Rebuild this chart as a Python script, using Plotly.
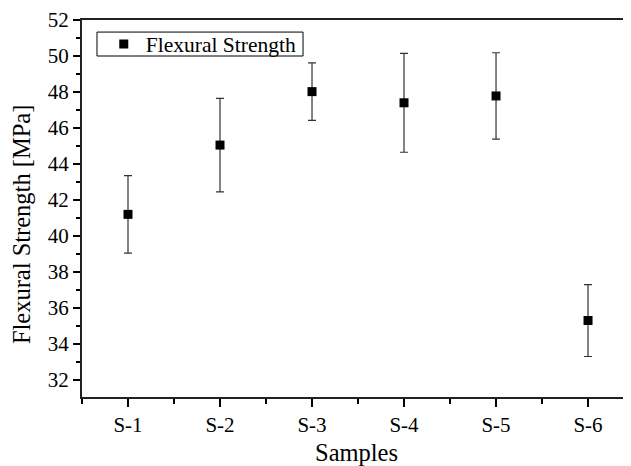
import plotly.graph_objects as go

samples = ["S-1", "S-2", "S-3", "S-4", "S-5", "S-6"]
positions = [1, 2, 3, 4, 5, 6]
strength = [41.2, 45.05, 48.02, 47.4, 47.78, 35.3]
error = [2.15, 2.6, 1.6, 2.75, 2.4, 2.0]

font_family = "Liberation Serif, Times New Roman, serif"

fig = go.Figure(
    data=go.Scatter(
        x=positions,
        y=strength,
        mode="markers",
        name="Flexural Strength",
        marker=dict(symbol="square", size=9, color="black"),
        error_y=dict(type="data", array=error, color="#333333", thickness=1.2, width=4),
    )
)

# page has an 8px body margin, so the figure is sized to fit inside the window
fig.update_layout(
    width=623,
    height=458,
    margin=dict(l=74, r=0, t=12, b=69),
    paper_bgcolor="white",
    plot_bgcolor="white",
    font=dict(family=font_family, size=21, color="black"),
    showlegend=True,
    legend=dict(
        x=0.036, y=0.9363, xanchor="left", yanchor="middle",
        borderwidth=0, bgcolor="rgba(0,0,0,0)", itemwidth=34,
        font=dict(size=21.5, family=font_family),
    ),
    # tight Origin-style frame round the legend
    shapes=[
        dict(type="rect", xref="paper", yref="paper",
             x0=0.0273, x1=0.4026, y0=0.9045, y1=0.968,
             line=dict(color="black", width=1)),
    ],
    xaxis=dict(
        range=[0.5, 6.467],
        tickvals=positions,
        ticktext=samples,
        showgrid=False,
        zeroline=False,
        showline=True, linecolor="#222222", linewidth=2,
        mirror=True,
        ticks="outside", ticklen=8, tickcolor="black", tickwidth=1.5,
        minor=dict(tickmode="linear", tick0=0.5, dtick=1, ticks="outside",
                   ticklen=5, tickcolor="black", tickwidth=1.5),
    ),
    yaxis=dict(
        range=[31.05, 52],
        dtick=2,
        tick0=32,
        showgrid=False,
        zeroline=False,
        showline=True, linecolor="#222222", linewidth=2,
        ticks="outside", ticklen=7, tickcolor="black", tickwidth=1.5,
        minor=dict(dtick=1, ticks="outside", ticklen=4,
                   tickcolor="black", tickwidth=1.5),
    ),
    annotations=[
        dict(text="Flexural Strength [MPa]", xref="paper", yref="paper",
             x=-0.109, y=0.459, xanchor="center", yanchor="middle",
             textangle=-90, showarrow=False, font=dict(size=24.5)),
        dict(text="Samples", xref="paper", yref="paper",
             x=0.5, y=-0.146, xanchor="center", yanchor="middle",
             showarrow=False, font=dict(size=24.5)),
    ],
)

fig.write_html("out.html")
